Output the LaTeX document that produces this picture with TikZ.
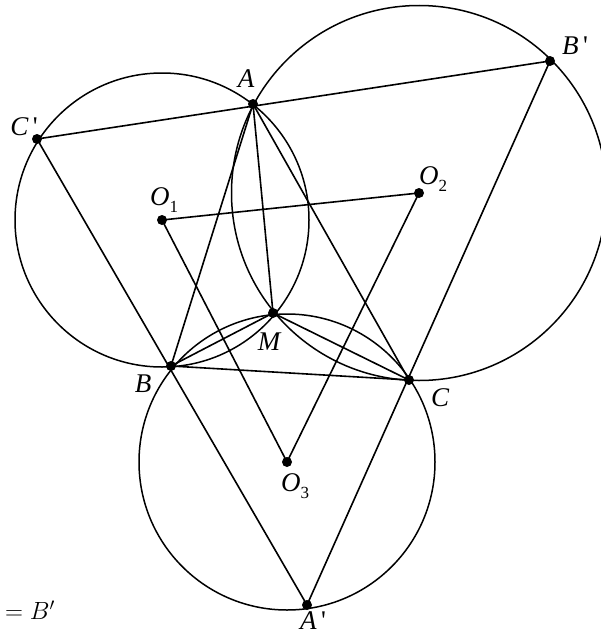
\documentclass[tikz,border=0pt]{standalone}
\usepackage{fontspec}
\setmainfont{Liberation Serif}
\newfontfamily\primefont{Liberation Serif}
\begin{document}
\begin{tikzpicture}[x=1pt,y=-1pt,
  seg/.style={line width=1.6pt},
  circ/.style={line width=1.5pt},
  pt/.style={circle,fill=black,inner sep=0pt,minimum size=10pt},
  lbl/.style={font=\fontsize{27}{30}\selectfont\itshape,inner sep=0pt}]
\newcommand{\mysub}[1]{\raisebox{-7pt}{\upshape\fontsize{17}{18}\selectfont #1}}
\newcommand{\myprime}{{\primefont\upshape\char39}}
\useasboundingbox (0,0) rectangle (600,637);
\coordinate (A) at (253,104);
\coordinate (Bp) at (550,61);
\coordinate (Cp) at (37,139);
\coordinate (O1) at (162,220);
\coordinate (O2) at (419,193);
\coordinate (M) at (273,313);
\coordinate (B) at (171,366);
\coordinate (C) at (409,380);
\coordinate (O3) at (287,462);
\coordinate (Ap) at (307,605);
% circles
\draw[circ] (O1) circle[radius=147];
\draw[circ] (O2) circle[radius=187.5];
\draw[circ] (O3) circle[radius=148];
% segments
\draw[seg] (Cp) -- (Bp);
\draw[seg] (Cp) -- (Ap);
\draw[seg] (Bp) -- (Ap);
\draw[seg] (A) -- (B) -- (C) -- cycle;
\draw[seg] (A) -- (M);
\draw[seg] (M) -- (B);
\draw[seg] (M) -- (C);
\draw[seg] (O1) -- (O2) -- (O3) -- cycle;
% points
\foreach \p in {A,Bp,Cp,O1,O2,M,B,C,O3,Ap} \node[pt] (d\p) at (\p) {};
% labels
\node[lbl] (lA) at (246,79) {A};
\node[lbl] (lBp) at (575,46) {B\,\myprime};
\node[lbl] (lCp) at (24,127) {C\,\myprime};
\node[lbl] (lO1) at (164,200) {O\mysub{1}};
\node[lbl] (lO2) at (433,179) {O\mysub{2}};
\node[lbl] (lM) at (269,342) {M};
\node[lbl] (lB) at (143,384) {B};
\node[lbl] (lC) at (440,398) {C};
\node[lbl] (lO3) at (295,486) {O\mysub{3}};
\node[lbl] (lAp) at (313,621) {A\,\myprime};
\node[font=\fontsize{27}{30}\selectfont,inner sep=0pt] (eq) at (30,610) {$=B'$};
\end{tikzpicture}
\end{document}
